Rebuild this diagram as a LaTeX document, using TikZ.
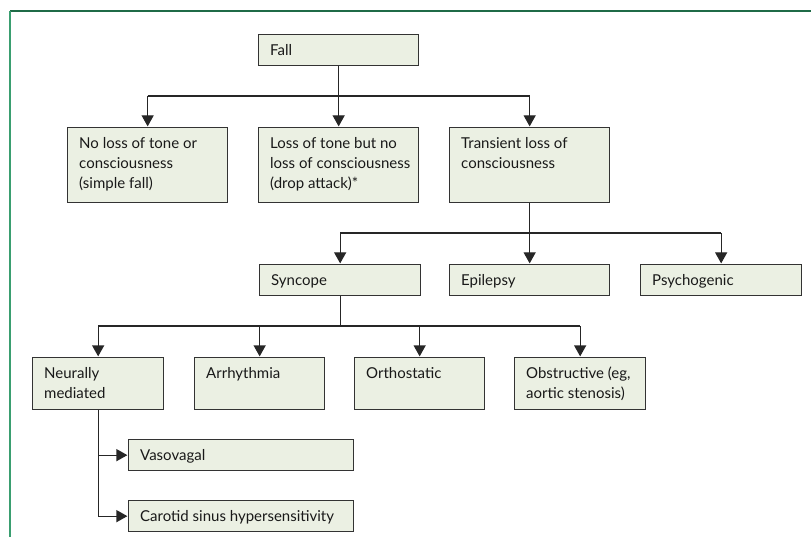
\documentclass[tikz,border=0pt]{standalone}
\usepackage{fontspec}
\setmainfont{Lato}
\usetikzlibrary{arrows.meta,calc}
\definecolor{boxfill}{HTML}{EBF0E3}
\definecolor{boxline}{HTML}{333333}
\definecolor{frametop}{HTML}{1F6B47}
\definecolor{frameleft}{HTML}{3A9E70}
\tikzset{
  box/.style={draw=boxline, fill=boxfill, line width=1.3pt, rectangle, inner sep=0pt, anchor=north west},
  txt/.style={anchor=north west, inner sep=0pt, align=left, text=black!90, font=\fontsize{15}{20}\selectfont},
  link/.style={draw=black!85, line width=1.2pt},
  arr/.style={link, -{Triangle[width=12pt,length=11pt]}, shorten >=0.6pt}
}
\newcommand{\mybox}[6]{%
  \node[box, minimum width={(#4-#2)*1pt}, minimum height={(#5-#3)*1pt}] (#1) at (#2,#3) {};
  \node[txt] (#1t) at ($(#1.north west)+(12,7)$) {\strut #6};
}
\begin{document}
\begin{tikzpicture}[x=1pt,y=-1pt]
\useasboundingbox (0,0) rectangle (811,537);
% frame
\coordinate (fc) at (10,11);
\coordinate (fr) at (811,11);
\coordinate (fb) at (10,537);
\draw[frametop, line width=1.3pt] (fc) -- (fr);
\draw[frameleft, line width=1.6pt] (fc) -- (fb);

\mybox{fall}{258}{34}{418}{65}{Fall}
\mybox{nol}{67}{127}{227}{202}{No loss of tone or\\consciousness\\(simple fall)}
\mybox{lot}{258}{127}{418}{202}{Loss of tone but no\\loss of consciousness\\(drop attack)*}
\mybox{tlc}{449}{127}{609}{202}{Transient loss of\\consciousness}
\mybox{syn}{259}{264}{420}{295}{Syncope}
\mybox{epi}{449}{264}{609}{295}{Epilepsy}
\mybox{psy}{640}{264}{801}{295}{Psychogenic}
\mybox{neu}{32}{357}{163}{409}{Neurally\\mediated}
\mybox{arr}{194}{357}{324}{409}{Arrhythmia}
\mybox{ort}{354}{357}{484}{409}{Orthostatic}
\mybox{obs}{514}{357}{645}{409}{Obstructive (eg,\\aortic stenosis)}
\mybox{vas}{128}{439}{353}{470}{Vasovagal}
\mybox{car}{128}{500}{353}{531}{Carotid sinus hypersensitivity}

% level 1
\coordinate (j1) at (338,96);
\draw[link] (fall.south) -- (fall.south |- j1);
\draw[link] (nol.north |- j1) -- (tlc.north |- j1);
\draw[arr] (nol.north |- j1) -- (nol.north);
\draw[arr] (lot.north |- j1) -- (lot.north);
\draw[arr] (tlc.north |- j1) -- (tlc.north);
% level 2
\coordinate (j2) at (529,233);
\draw[link] (tlc.south) -- (tlc.south |- j2);
\draw[link] (syn.north |- j2) -- (psy.north |- j2);
\draw[arr] (syn.north |- j2) -- (syn.north);
\draw[arr] (epi.north |- j2) -- (epi.north);
\draw[arr] (psy.north |- j2) -- (psy.north);
% level 3
\coordinate (j3) at (339,326);
\draw[link] (syn.south) -- (syn.south |- j3);
\draw[link] (neu.north |- j3) -- (obs.north |- j3);
\draw[arr] (neu.north |- j3) -- (neu.north);
\draw[arr] (arr.north |- j3) -- (arr.north);
\draw[arr] (ort.north |- j3) -- (ort.north);
\draw[arr] (obs.north |- j3) -- (obs.north);
% neurally mediated
\draw[link] (neu.south) -- (neu.south |- car.west);
\draw[arr] (neu.south |- vas.west) -- (vas.west);
\draw[arr] (neu.south |- car.west) -- (car.west);
\end{tikzpicture}
\end{document}
